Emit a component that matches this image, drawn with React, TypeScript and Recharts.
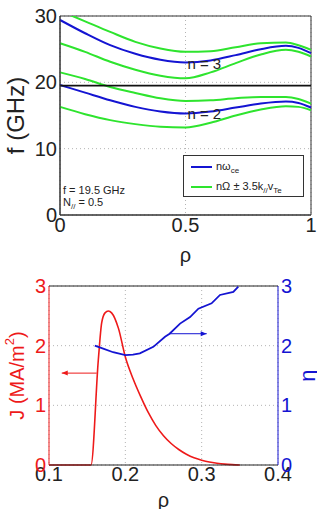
import React from 'react';
import {
  LineChart,
  Line,
  XAxis,
  YAxis,
  CartesianGrid,
  ReferenceLine,
  ReferenceArea,
  ReferenceDot,
  Legend,
  Label,
} from 'recharts';

// --- top panel: resonance frequencies vs rho ---
const rho = [0, 0.1, 0.2, 0.3, 0.4, 0.5, 0.6, 0.7, 0.8, 0.9, 0.95, 1];
const f3 = [29.4, 27.4, 25.6, 24.3, 23.4, 23.0, 23.3, 24.1, 25.0, 25.5, 25.2, 24.4];
const f3Up = [30.8, 29.2, 27.6, 26.1, 25.1, 24.6, 24.7, 25.3, 25.9, 26.0, 25.6, 24.9];
const f3Lo = [25.9, 24.6, 23.1, 21.9, 21.0, 20.6, 21.5, 22.9, 24.2, 24.9, 24.6, 23.9];
const f2 = [19.6, 18.45, 17.3, 16.3, 15.6, 15.3, 15.6, 16.2, 16.8, 17.1, 16.9, 16.2];
const f2Up = [21.5, 20.5, 19.3, 18.4, 17.6, 17.2, 17.3, 17.6, 17.8, 17.8, 17.5, 16.8];
const f2Lo = [16.3, 15.2, 14.3, 13.7, 13.3, 13.2, 13.9, 15.0, 15.9, 16.4, 16.3, 15.8];
const waveFreq = 19.5;

// --- bottom panel: current density and eta ---
const jRho = [0.1, 0.155, 0.1646, 0.169, 0.1734, 0.1777, 0.182, 0.191, 0.2, 0.21, 0.22, 0.23, 0.24, 0.25, 0.26, 0.27, 0.28, 0.29, 0.3, 0.31, 0.32, 0.33, 0.34, 0.35];
const jVal = [0, 0, 1.76, 2.38, 2.55, 2.58, 2.55, 2.29, 1.81, 1.45, 1.15, 0.88, 0.66, 0.49, 0.36, 0.26, 0.18, 0.12, 0.08, 0.05, 0.03, 0.015, 0.006, 0];
const etaRho = [0.16, 0.171, 0.184, 0.2, 0.21, 0.219, 0.2367, 0.252, 0.258, 0.2717, 0.2848, 0.2957, 0.313, 0.324, 0.3415, 0.348];
const etaVal = [2.0, 1.95, 1.89, 1.84, 1.85, 1.87, 1.98, 2.15, 2.2, 2.37, 2.48, 2.62, 2.71, 2.85, 2.9, 2.99];

const BLUE = '#1414d2';
const GREEN = '#2ee42e';
const RED = '#ee1a1a';
const INK = '#222';
const FONT = '"Liberation Sans", Arial, sans-serif';

const topData = rho.map((r, i) => ({
  rho: r,
  f3: f3[i],
  f3Up: f3Up[i],
  f3Lo: f3Lo[i],
  f2: f2[i],
  f2Up: f2Up[i],
  f2Lo: f2Lo[i],
}));
const jData = jRho.map((r, i) => ({ rho: r, j: jVal[i] }));
const etaData = etaRho.map((r, i) => ({ rho: r, eta: etaVal[i] }));

function YTitle({ viewBox, dx, color, size, children }: any) {
  const x = viewBox.x + dx;
  const y = viewBox.y + viewBox.height / 2;
  return (
    <text x={x} y={y} fill={color} fontSize={size} textAnchor="middle" dominantBaseline="central" transform={`rotate(-90, ${x}, ${y})`}>
      {children}
    </text>
  );
}

function XTitle({ viewBox, dy }: any) {
  return (
    <text x={viewBox.x + viewBox.width / 2} y={viewBox.y + dy} fill={INK} fontSize={20} textAnchor="middle">
      ρ
    </text>
  );
}

function FreqLegend() {
  const row = (top: number, color: string, label: React.ReactNode) => (
    <div style={{ position: 'absolute', left: 0, top, height: 18, width: '100%' }}>
      <div style={{ position: 'absolute', left: 7, top: 8, width: 21, height: 2, background: color }} />
      <div style={{ position: 'absolute', left: 32, top: 1, whiteSpace: 'nowrap' }}>{label}</div>
    </div>
  );
  const sub = { fontSize: 8, verticalAlign: -3 };
  return (
    <div style={{ position: 'relative', width: 121, height: 42, border: '1px solid #333', background: '#fff', boxSizing: 'border-box', fontSize: 11, color: INK, lineHeight: '14px' }}>
      {row(2, BLUE, <span>nω<span style={sub}>ce</span></span>)}
      {row(22, GREEN, <span>nΩ ± 3.5k<span style={sub}>//</span>v<span style={sub}>Te</span></span>)}
    </div>
  );
}

const note = (lines: React.ReactNode) => (p: any) => (
  <text x={p.cx} y={p.cy} fill={INK} fontSize={11}>
    {lines}
  </text>
);

function TopChart() {
  return (
    <LineChart width={317} height={270} data={topData} margin={{ top: 16, right: 6, left: 0, bottom: 0 }}>
      <CartesianGrid stroke="#b4b4b4" strokeDasharray="1 3" />
      <XAxis
        dataKey="rho"
        type="number"
        domain={[0, 1]}
        ticks={[0, 0.5, 1]}
        height={55}
        tickLine={false}
        tickSize={0}
        tickMargin={3}
        axisLine={{ stroke: '#333' }}
        tick={{ fill: INK, fontSize: 20 }}
      >
        <Label content={(p: any) => <XTitle {...p} dy={47} />} />
      </XAxis>
      <YAxis
        type="number"
        domain={[0, 30]}
        ticks={[0, 10, 20, 30]}
        width={60}
        allowDataOverflow
        tickLine={false}
        tickSize={0}
        tickMargin={3}
        axisLine={{ stroke: '#333' }}
        tick={{ fill: INK, fontSize: 20 }}
      >
        <Label content={(p: any) => <YTitle {...p} dx={15} color={INK} size={24}>f (GHz)</YTitle>} />
      </YAxis>
      <ReferenceArea x1={0} x2={1} y1={0} y2={30} fill="none" stroke="#333" />
      <Line dataKey="f3Up" type="monotone" stroke={GREEN} strokeWidth={2} dot={false} isAnimationActive={false} />
      <Line dataKey="f3Lo" type="monotone" stroke={GREEN} strokeWidth={2} dot={false} isAnimationActive={false} />
      <Line dataKey="f2Up" type="monotone" stroke={GREEN} strokeWidth={2} dot={false} isAnimationActive={false} />
      <Line dataKey="f2Lo" type="monotone" stroke={GREEN} strokeWidth={2} dot={false} isAnimationActive={false} />
      <Line dataKey="f3" type="monotone" stroke={BLUE} strokeWidth={2} dot={false} isAnimationActive={false} />
      <Line dataKey="f2" type="monotone" stroke={BLUE} strokeWidth={2} dot={false} isAnimationActive={false} />
      <ReferenceLine y={waveFreq} stroke="#111" strokeWidth={1.6} />
      <ReferenceDot x={0.575} y={22.9} r={0} shape={(p: any) => (
        <text x={p.cx} y={p.cy} fill={INK} fontSize={15} textAnchor="middle" dominantBaseline="central">n = 3</text>
      )} />
      <ReferenceDot x={0.575} y={15.3} r={0} shape={(p: any) => (
        <text x={p.cx} y={p.cy} fill={INK} fontSize={15} textAnchor="middle" dominantBaseline="central">n = 2</text>
      )} />
      <ReferenceDot x={0.012} y={3.2} r={0} shape={note('f = 19.5 GHz')} />
      <ReferenceDot x={0.012} y={1.4} r={0} shape={note(<>N<tspan fontSize={8} dy={3}>//</tspan><tspan dy={-3}> = 0.5</tspan></>)} />
      <Legend
        layout="horizontal"
        verticalAlign="middle"
        align="center"
        content={() => <FreqLegend />}
        wrapperStyle={{ left: 183, top: 155, width: 121, height: 42 }}
      />
    </LineChart>
  );
}

function BottomChart() {
  const arrowLeft = (p: any) => <path d={`M${p.cx},${p.cy} l6,-2.5 l0,5 z`} fill={RED} />;
  const arrowRight = (p: any) => <path d={`M${p.cx},${p.cy} l-6,-2.5 l0,5 z`} fill={BLUE} />;
  return (
    <LineChart width={317} height={239} margin={{ top: 16, right: 0, left: 0, bottom: 0 }}>
      <CartesianGrid yAxisId="left" stroke="#b4b4b4" strokeDasharray="1 3" />
      <XAxis
        dataKey="rho"
        type="number"
        domain={[0.1, 0.4]}
        ticks={[0.1, 0.2, 0.3, 0.4]}
        allowDataOverflow
        height={44}
        tickLine={false}
        tickSize={0}
        tickMargin={2}
        axisLine={{ stroke: '#222' }}
        tick={{ fill: INK, fontSize: 20 }}
      >
        <Label content={(p: any) => <XTitle {...p} dy={42} />} />
      </XAxis>
      <YAxis
        yAxisId="left"
        type="number"
        domain={[0, 3]}
        ticks={[0, 1, 2, 3]}
        width={49}
        tickLine={false}
        tickSize={0}
        tickMargin={3}
        axisLine={{ stroke: RED }}
        tick={{ fill: RED, fontSize: 20 }}
      >
        <Label content={(p: any) => (
          <YTitle {...p} dx={17} color={RED} size={20}>
            J (MA/m<tspan fontSize={13} dy={-8}>2</tspan><tspan dy={8}>)</tspan>
          </YTitle>
        )} />
      </YAxis>
      <YAxis
        yAxisId="right"
        orientation="right"
        type="number"
        domain={[0, 3]}
        ticks={[0, 1, 2, 3]}
        width={39}
        tickLine={false}
        tickSize={0}
        tickMargin={3}
        axisLine={{ stroke: BLUE }}
        tick={{ fill: BLUE, fontSize: 20 }}
      >
        <Label content={(p: any) => <YTitle {...p} dx={29} color={BLUE} size={22}>η</YTitle>} />
      </YAxis>
      <ReferenceLine yAxisId="left" y={3} stroke="#222" />
      <Line yAxisId="left" data={jData} dataKey="j" type="monotone" stroke={RED} strokeWidth={1.6} dot={false} isAnimationActive={false} />
      <Line yAxisId="right" data={etaData} dataKey="eta" type="linear" stroke={BLUE} strokeWidth={1.8} dot={false} isAnimationActive={false} />
      <ReferenceLine yAxisId="left" segment={[{ x: 0.1625, y: 1.54 }, { x: 0.1167, y: 1.54 }]} stroke={RED} strokeWidth={1} />
      <ReferenceDot yAxisId="left" x={0.1167} y={1.54} r={0} shape={arrowLeft} />
      <ReferenceLine yAxisId="right" segment={[{ x: 0.258, y: 2.2 }, { x: 0.3066, y: 2.2 }]} stroke={BLUE} strokeWidth={1} />
      <ReferenceDot yAxisId="right" x={0.3066} y={2.2} r={0} shape={arrowRight} />
    </LineChart>
  );
}

export default function App() {
  return (
    <div style={{ position: 'absolute', left: 0, top: 0, width: 317, height: 509, background: '#fff', fontFamily: FONT, overflow: 'hidden' }}>
      <div style={{ position: 'absolute', left: 0, top: 0 }}>
        <TopChart />
      </div>
      <div style={{ position: 'absolute', left: 0, top: 270 }}>
        <BottomChart />
      </div>
    </div>
  );
}
